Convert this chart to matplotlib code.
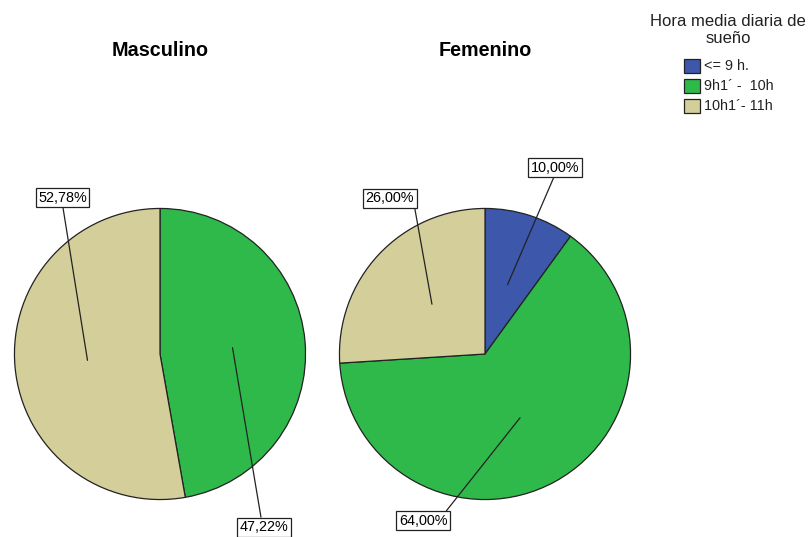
import numpy as np
import matplotlib
matplotlib.use("Agg")
import matplotlib.pyplot as plt
from matplotlib.patches import Rectangle

plt.rcParams['font.family'] = ['Liberation Sans', 'DejaVu Sans']

categories = ["<= 9 h.", "9h1\u00b4 -  10h", "10h1\u00b4- 11h"]
colors = ["#3D57AA", "#2EB94A", "#D4CE9A"]
groups = ["Masculino", "Femenino"]
values_masc = [0.0, 47.22, 52.78]
values_fem = [10.00, 64.00, 26.00]
label_masc = ["", "47,22%", "52,78%"]
label_fem = ["10,00%", "64,00%", "26,00%"]
legend_title = ["Hora media diaria de", "sueño"]

# label text positions (pie radius units) and line attach points on the box
text_pos_masc = [None, (0.714, -1.19), (-0.67, 1.075)]
relpos_masc = [None, (0.45, 1.0), (0.5, 0.0)]
text_pos_fem = [(0.480, 1.279), (-0.425, -1.146), (-0.653, 1.071)]
relpos_fem = [(0.5, 0.0), (0.93, 1.0), (1.0, 0.0)]

W, H = 811, 537
fig = plt.figure(figsize=(W / 100, H / 100), dpi=100)

R = 147
centers = [(160, 354), (485, 354)]

def draw_pie(cx, cy, vals, labels, tpos, rpos, title):
    ax = fig.add_axes([(cx - R) / W, (H - cy - R) / H, 2 * R / W, 2 * R / H])
    vals = np.array(vals, dtype=float)
    keep = vals > 0
    ax.pie(vals[keep], colors=[c for c, k in zip(colors, keep) if k],
           startangle=90, counterclock=False, radius=1.0,
           wedgeprops=dict(edgecolor="#222222", linewidth=0.9))
    ax.set_xlim(-1.01, 1.01)
    ax.set_ylim(-1.01, 1.01)
    ax.set_aspect('equal')
    ax.axis('off')
    total = vals.sum()
    cum = 0.0
    for v, lab, tp, rp in zip(vals, labels, tpos, rpos):
        if v <= 0:
            continue
        mid = cum + v / 2
        cum += v
        ang = np.deg2rad(90 - mid / total * 360)
        xy = (0.5 * np.cos(ang), 0.5 * np.sin(ang))
        ax.annotate(lab, xy=xy, xytext=tp, ha='center', va='center',
                    fontsize=10.4, annotation_clip=False,
                    bbox=dict(boxstyle='square,pad=0.18', fc='white', ec='#222222', lw=0.9),
                    arrowprops=dict(arrowstyle='-', color='#222222', lw=0.9,
                                    shrinkA=0, shrinkB=0, relpos=rp))
    fig.text(cx / W, 1 - 50 / H, title, ha='center', va='center',
             fontsize=14.2, fontweight='bold')

draw_pie(*centers[0], values_masc, label_masc, text_pos_masc, relpos_masc, groups[0])
draw_pie(*centers[1], values_fem, label_fem, text_pos_fem, relpos_fem, groups[1])

# legend drawn manually (pixel layout)
for i, line in enumerate(legend_title):
    fig.text(728 / W, 1 - (21 + 17.5 * i) / H, line, ha='center', va='center',
             fontsize=12.0, color='#222222')
for i, (lab, col) in enumerate(zip(categories, colors)):
    yc = 66 + 20 * i
    fig.patches.append(Rectangle((684 / W, 1 - (yc + 7) / H), 16 / W, 14 / H,
                                 transform=fig.transFigure, facecolor=col,
                                 edgecolor='#222222', linewidth=0.9))
    fig.text(704 / W, 1 - yc / H, lab, ha='left', va='center',
             fontsize=10.4, color='#222222')

fig.savefig("out.png", dpi=100)
